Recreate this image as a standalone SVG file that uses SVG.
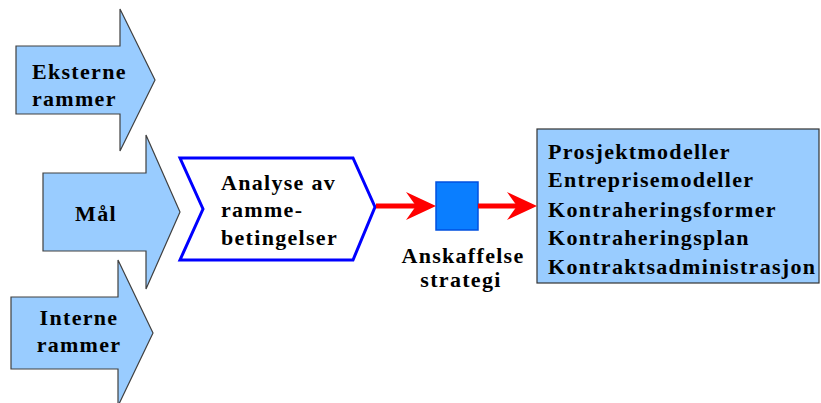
<svg xmlns="http://www.w3.org/2000/svg" width="821" height="403" viewBox="0 0 821 403">
<style>
.in{fill:#99CCFF;stroke:#404040;stroke-width:1.2}
text{font-family:'Liberation Serif','Times New Roman','DejaVu Serif',serif;font-weight:bold;font-size:22px;letter-spacing:1.3px;fill:#000}
.m{text-anchor:middle}
.red{stroke:#FF0000;stroke-width:5;fill:none}
.rh{fill:#FF0000}
</style>
<rect width="821" height="403" fill="#fff"/>
<g id="eksterne">
<polygon class="in" points="16,46 120,46 120,9 155,80 120,151 120,114 16,114"/>
<text x="32" y="79">Eksterne</text>
<text x="32" y="106">rammer</text>
</g>
<g id="maal">
<polygon class="in" points="43,173 146,173 146,135 180,212 146,289 146,251 43,251"/>
<text class="m" x="96" y="221">Mål</text>
</g>
<g id="interne">
<polygon class="in" points="11,297 118,297 118,260 153,333 118,406 118,369 11,369"/>
<text class="m" x="79" y="325">Interne</text>
<text class="m" x="79" y="352">rammer</text>
</g>
<g id="analyse">
<polygon points="180,158 353,158 375,207 353,260 180,260 203,209" fill="#fff" stroke="#0000FF" stroke-width="3" stroke-linejoin="miter"/>
<text x="221" y="190">Analyse av</text>
<text x="221" y="217">ramme-</text>
<text x="221" y="245">betingelser</text>
</g>
<g id="strategi">
<rect x="436" y="182" width="42" height="48" fill="#0A7EFF" stroke="#0050E0" stroke-width="1.5"/>
<text class="m" x="463" y="263">Anskaffelse</text>
<text class="m" x="461" y="287">strategi</text>
</g>
<g id="resultat">
<rect x="537" y="129" width="282" height="154" fill="#99CCFF" stroke="#333" stroke-width="1.2"/>
<text x="548" y="159">Prosjektmodeller</text>
<text x="548" y="187">Entreprisemodeller</text>
<text x="548" y="217">Kontraheringsformer</text>
<text x="548" y="245">Kontraheringsplan</text>
<text x="548" y="274">Kontraktsadministrasjon</text>
</g>
<g id="connectors">
<line class="red" x1="376" y1="206" x2="420" y2="206"/>
<polygon class="rh" points="406,192 436,206 406,220 416,206"/>
<line class="red" x1="478" y1="206" x2="520" y2="206"/>
<polygon class="rh" points="507,192 537,206 507,220 517,206"/>
</g>
</svg>
